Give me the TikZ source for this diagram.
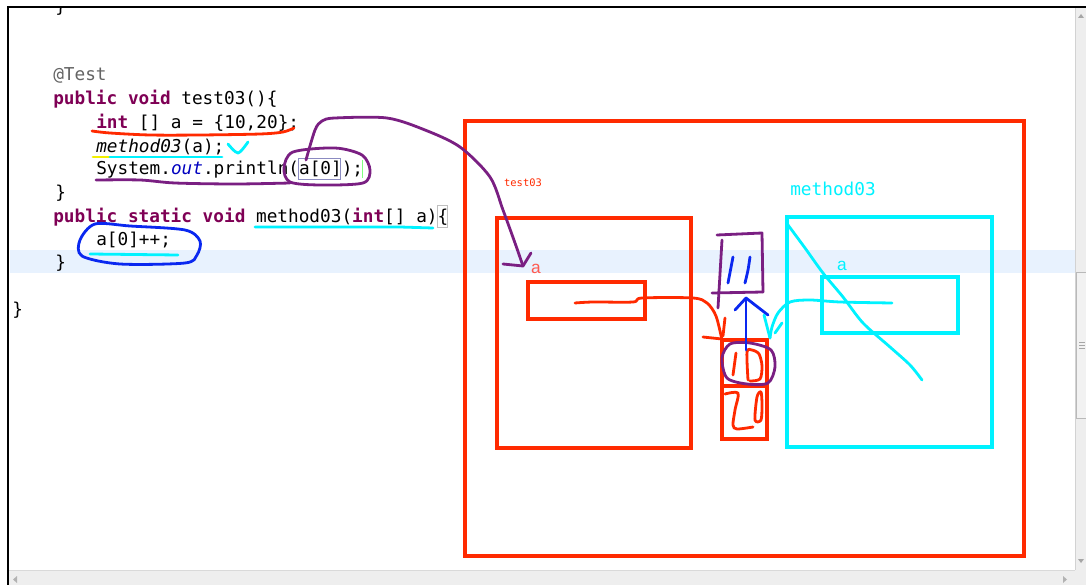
\documentclass[tikz,border=0pt]{standalone}
\usepackage{fontspec}
\setmonofont{DejaVu Sans Mono}
\setsansfont{Liberation Sans}
\usepackage{xcolor}
\usetikzlibrary{arrows.meta,calc,positioning}
\definecolor{kwpurple}{HTML}{7F0055}
\definecolor{anngray}{HTML}{646464}
\definecolor{fieldblue}{HTML}{0000C0}
\definecolor{linehl}{HTML}{E8F2FE}
\definecolor{penred}{HTML}{FF2A00}
\definecolor{pencyan}{HTML}{00F2FF}
\definecolor{penpurple}{HTML}{7A1F82}
\definecolor{penblue}{HTML}{0A28F0}
\definecolor{penyellow}{HTML}{F2F000}
\definecolor{labelred}{HTML}{FF5A50}
\definecolor{barfill}{HTML}{EEEEEE}
\newcommand{\kw}[1]{{\color{kwpurple}\bfseries #1}}
\newcommand{\codefont}{\ttfamily\fontsize{13.3}{15}\selectfont}

\begin{document}
\begin{tikzpicture}[x=0.75pt,y=-0.75pt,
  code/.style={anchor=base west,inner sep=0pt,font=\codefont},
  pen/.style={line width=2.1pt,line cap=round,line join=round},
  framebox/.style={line width=2.3pt}]
\useasboundingbox (0,0) rectangle (1086,585);
\fill[white] (0,0) rectangle (1086,585);

% editor text
\begin{scope}
\clip (9,8) rectangle (1075,570);
\fill[linehl] (10,250) rectangle (1075,273);
\node[code] (close0) at (55,13) {\}};
\node[code,text=anngray] (anno) at (53,81) {@Test};
\node[code] (sigtest) at (53,104) {\kw{public} \kw{void} test03()\{};
\node[code] (decl) at (96,128) {\kw{int} [] a = \{10,20\};};
\node[code] (call) at (96,152) {\textit{method03}(a);};
\node[code] (prn) at (96,175) {System.{\color{fieldblue}\textit{out}}.println(a[0]);};
\node[code] (close1) at (55,198) {\}};
\node[code] (sigmeth) at (53,222) {\kw{public} \kw{static} \kw{void} method03(\kw{int}[] a)\{};
\node[code] (incr) at (96,245) {a[0]++;};
\node[code] (close2) at (55,268) {\}};
\node[code] (close3) at (12,315) {\}};
% ide marks
\draw[blue!30!gray!70,line width=0.6pt] (298,158) rectangle (340,179);
\draw[green!50,line width=0.5pt] (362,160) -- (362,178);
\draw[gray!50,line width=0.6pt] (437,205) rectangle (447,227);
\end{scope}

% marks on the code
\draw[pen,penred] plot[smooth] coordinates {(92,131) (110,133) (150,135) (200,135) (260,134) (283,132) (294,128)};
\draw[pen,penyellow] (93,157) -- (112,157);
\draw[pen,pencyan] (110,157) -- (222,157);
\draw[pen,pencyan] plot[smooth] coordinates {(228,144) (238,153) (248,142)};
\draw[pen,penpurple] plot[smooth] coordinates {(96,180) (140,180) (175,183) (235,184) (290,183)};
\draw[pen,penpurple] plot[smooth cycle] coordinates {(284,168) (293,152) (335,148) (362,155) (370,170) (363,183) (320,185) (290,182)};
\draw[pen,pencyan] (255,227) -- (400,227) -- (433,228);
\draw[pen,penblue] plot[smooth cycle] coordinates {(80,240) (95,224) (130,226) (185,230) (200,241) (197,255) (185,263) (120,264) (82,256)};
\draw[pen,pencyan] (90,254) -- (178,255);

% test03 frame
\draw[framebox,penred] (465,121) rectangle (1024,556);
\node[text=penred,font=\ttfamily\fontsize{7.8}{9}\selectfont] (tstlbl) at (523,183) {test03};
\draw[framebox,penred] (497,218) rectangle (691,448);
\node[text=labelred,font=\sffamily\fontsize{13}{13}\selectfont] (vara) at (536,269) {a};
\draw[framebox,penred] (528,282) rectangle (645,319);

% call arrow
\coordinate (argpick) at (306,160);
\coordinate (atip) at (523,266);
\draw[pen,penpurple] plot[smooth] coordinates {(argpick) (315,130) (322,121) (335,118) (387,118) (425,130) (460,147) (490,177) (503,210) (515,243) (atip)};
\draw[pen,penpurple] (531,253) -- (atip) -- (503,264);

% array in heap
\draw[framebox,penred] (722,340) rectangle (767,439);
\draw[framebox,penred] (722,386) -- (767,386);
\draw[pen,penred] (736,353) -- (733,375);
\draw[pen,penred] plot[smooth] coordinates {(748,380) (747,352) (752,350) (759,354) (762,366) (760,379) (750,381)};
\draw[pen,penred] plot[smooth] coordinates {(725,394) (738,393) (735,410) (733,425) (737,429) (753,427)};
\draw[pen,penred] plot[smooth cycle] coordinates {(757,397) (761,392) (762,405) (761,420) (755,420)};
\draw[pen,penpurple] plot[smooth cycle] coordinates {(722,358) (730,344) (750,343) (771,350) (775,367) (768,383) (747,384) (727,378)};

% reference line into the array
\draw[pen,penred] plot[smooth] coordinates {(575,303) (593,302) (633,302) (642,298) (693,298) (707,303) (716,316) (722,340)};
\draw[pen,penred] (703,337) -- (722,339);
\draw[pen,penred] (725,318) -- (723,336);

% new value 11
\draw[pen,penpurple] (717,235) -- (762,233) -- (763,292);
\draw[pen,penpurple] (712,293) -- (763,292);
\draw[pen,penpurple] (722,240) -- (718,308);
\draw[pen,penblue] (733,257) -- (728,283);
\draw[pen,penblue] plot[smooth] coordinates {(750,257) (748,270) (745,283)};
\coordinate (incbase) at (746,350);
\coordinate (inctip) at (746,298);
\draw[pen,penblue] (incbase) -- (inctip);
\draw[pen,penblue] (735,310) -- (inctip) -- (768,315);

% method03 frame
\node[text=pencyan,font=\codefont] (mlbl) at (833,189) {method03};
\draw[framebox,pencyan] (787,217) rectangle (992,447);
\node[text=pencyan,font=\sffamily\fontsize{13}{13}\selectfont] (varb) at (842,266) {a};
\draw[framebox,pencyan] (822,277) rectangle (958,333);
\draw[pen,pencyan] plot[smooth] coordinates {(788,225) (805,248) (823,273) (843,297) (863,323) (890,347) (910,365) (922,380)};
\draw[pen,pencyan] plot[smooth] coordinates {(892,303) (840,302) (810,300) (790,302) (778,313) (772,327) (770,338)};
\draw[pen,pencyan] (764,315) -- (770,338);
\draw[pen,pencyan] (782,323) -- (775,333);

% scroll bars and window edge
\fill[barfill] (1075,8) rectangle (1086,570);
\draw[gray!35,line width=0.6pt] (1075,8) -- (1075,570);
\filldraw[fill=gray!10,draw=gray!55,line width=0.6pt] (1076,272) rectangle (1088,418);
\foreach \y in {342,345,348}
  \draw[gray!70,line width=0.6pt] (1079,\y) -- (1085,\y);
\fill[gray!70] (1078,18) -- (1084,18) -- (1081,14) -- cycle;
\fill[gray!70] (1078,559) -- (1084,559) -- (1081,563) -- cycle;
\fill[barfill] (9,570) rectangle (1086,585);
\draw[gray!30,line width=0.6pt] (9,570) -- (1075,570);
\fill[gray!60] (17,576) -- (17,583) -- (13,579.5) -- cycle;
\fill[gray!60] (1063,576) -- (1063,583) -- (1067,579.5) -- cycle;
\draw[line width=1.6pt] (8,586) -- (8,7) -- (1087,7);
\end{tikzpicture}
\end{document}
